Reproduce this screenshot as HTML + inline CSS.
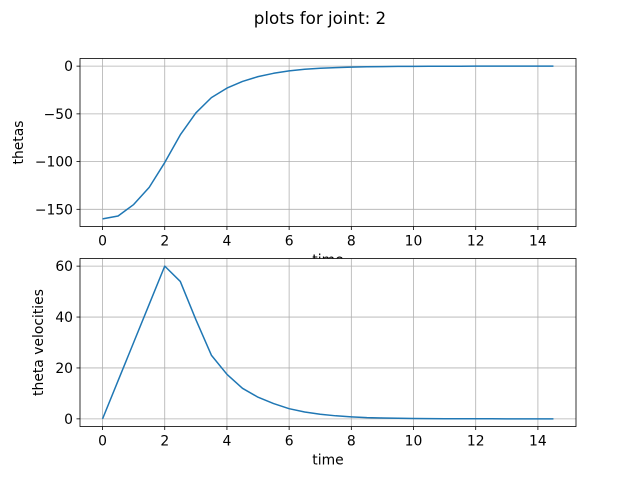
<!DOCTYPE html>
<html><head><meta charset="utf-8"><style>
body{margin:0;background:#fff}
svg text{font-family:"DejaVu Sans","Liberation Sans",sans-serif;fill:#000}
</style></head><body>
<svg id="fig" width="640" height="480" xmlns="http://www.w3.org/2000/svg">
<rect width="640" height="480" fill="#fff"/>
<text x="320" y="24" font-size="16.7" text-anchor="middle">plots for joint: 2</text>
</svg>
<script>
const times = [0,0.5,1,1.5,2,2.5,3,3.5,4,4.5,5,5.5,6,6.5,7,7.5,8,8.5,9,9.5,10,10.5,11,11.5,12,12.5,13,13.5,14,14.5];
const thetas = [-160,-157,-145,-127,-101,-72,-49,-33,-23,-16,-11,-7.5,-5,-3.3,-2.2,-1.5,-1,-0.7,-0.5,-0.3,-0.2,-0.15,-0.1,-0.07,-0.05,-0.03,-0.02,-0.01,-0.01,0];
const velocities = [0,15,30,45,60,54,39,25,17.5,12,8.5,6,4,2.7,1.8,1.2,0.8,0.5,0.35,0.25,0.15,0.1,0.07,0.05,0.03,0.02,0.01,0.01,0,0];
const xTicks = [0,2,4,6,8,10,12,14];
const thetaTicks = [0,-50,-100,-150];
const velTicks = [0,20,40,60];

const NS="http://www.w3.org/2000/svg";
const svg=document.getElementById('fig');
function mk(tag,attrs,parent){const e=document.createElementNS(NS,tag);for(const k in attrs)e.setAttribute(k,attrs[k]);(parent||svg).appendChild(e);return e;}

function panel(top,bottom,ys,yticks,ylabel,pname,ylx){
  const L=80,R=576;
  const xmin=-0.725,xmax=15.225;
  const ymin0=Math.min(...ys),ymax0=Math.max(...ys),m=(ymax0-ymin0)*0.05;
  const ymin=ymin0-m,ymax=ymax0+m;
  const X=v=>L+(v-xmin)/(xmax-xmin)*(R-L);
  const Y=v=>bottom-(v-ymin)/(ymax-ymin)*(bottom-top);
  const g=mk('g',{});
  
  
  mk('rect',{x:L,y:top,width:R-L,height:bottom-top,fill:'#fff'},g);
  xTicks.forEach(t=>{
    const gl=mk('line',{x1:X(t),x2:X(t),y1:top,y2:bottom,stroke:'#b0b0b0','stroke-width':0.8},g);
    
    
    mk('line',{x1:X(t),x2:X(t),y1:bottom,y2:bottom+3.5,stroke:'#000','stroke-width':0.8},g);
    const tx=mk('text',{x:X(t),y:bottom+19,'font-size':13.9,'text-anchor':'middle'},g);
    tx.textContent=t;
    
    
  });
  yticks.forEach(t=>{
    const gl=mk('line',{x1:L,x2:R,y1:Y(t),y2:Y(t),stroke:'#b0b0b0','stroke-width':0.8},g);
    
    
    mk('line',{x1:L-3.5,x2:L,y1:Y(t),y2:Y(t),stroke:'#000','stroke-width':0.8},g);
    const tx=mk('text',{x:L-7,y:Y(t)+5,'font-size':13.9,'text-anchor':'end'},g);
    tx.textContent=String(t).replace('-','\u2212');
    
    
  });
  const pts=times.map((t,i)=>X(t).toFixed(2)+','+Y(ys[i]).toFixed(2)).join(' ');
  const line=mk('polyline',{points:pts,fill:'none',stroke:'#1f77b4','stroke-width':1.5,'stroke-linejoin':'round'},g);
  
  
  mk('rect',{x:L,y:top,width:R-L,height:bottom-top,fill:'none',stroke:'#000','stroke-width':0.8},g);
  const xl=mk('text',{x:(L+R)/2,y:bottom+38,'font-size':13.9,'text-anchor':'middle'},g);
  xl.textContent='time';
  
  
  const cy=(top+bottom)/2;
  const yl=mk('text',{x:0,y:0,'font-size':13.9,'text-anchor':'middle',transform:`translate(${ylx},${cy}) rotate(-90)`},g);
  yl.textContent=ylabel;
  
  
}
panel(58.5,226.5,thetas,thetaTicks,'thetas','thetas-panel',23);
panel(258.5,426.5,velocities,velTicks,'theta velocities','velocities-panel',43);
</script>
</body></html>
